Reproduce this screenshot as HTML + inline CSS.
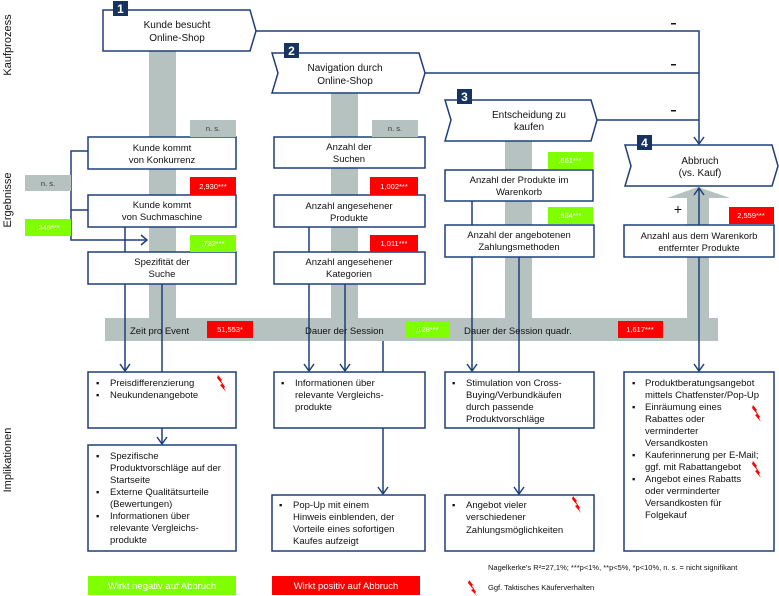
<!DOCTYPE html>
<html><head><meta charset="utf-8"><style>
html,body{margin:0;padding:0;background:#fff;}
svg{display:block;font-family:"Liberation Sans",Arial,sans-serif;}
</style></head><body>
<svg width="779" height="596" viewBox="0 0 779 596" xmlns="http://www.w3.org/2000/svg">
<!-- grey bars -->
<g fill="#b6c2c0">
<rect x="149" y="51" width="27" height="270"/>
<rect x="331" y="93" width="27" height="228"/>
<rect x="505" y="141" width="27" height="180"/>
<rect x="687" y="196" width="22" height="125"/>
<polygon points="667,198 698,187 730,198"/>
<rect x="105" y="318" width="613" height="23"/>
</g>
<!-- connector lines -->
<g stroke="#1f3f7a" stroke-width="1.5" fill="none">
<polyline points="256,31 699,31 699,144"/>
<line x1="425" y1="73" x2="699" y2="73"/>
<line x1="597" y1="120" x2="699" y2="120"/>
<polyline points="88,151 71,151 71,240 147,240"/>
<line x1="71" y1="210" x2="88" y2="210"/>
<line x1="125" y1="227" x2="125" y2="371"/>
<line x1="162" y1="284" x2="162" y2="372"/>
<line x1="162" y1="428" x2="162" y2="444"/>
<line x1="309" y1="227" x2="309" y2="371"/>
<line x1="345" y1="284" x2="345" y2="371"/>
<line x1="383" y1="341" x2="383" y2="494"/>
<line x1="472" y1="201" x2="472" y2="225"/>
<line x1="472" y1="257" x2="472" y2="371"/>
<line x1="519" y1="257" x2="519" y2="494"/>
<line x1="699" y1="257" x2="699" y2="371"/>
<line x1="699" y1="225" x2="699" y2="188"/>
<!-- arrowheads -->
<path d="M694,137 L699,144 L704,137"/>
<path d="M141,235 L147,240 L141,245"/>
<path d="M120,364 L125,371 L130,364"/>
<path d="M157,437 L162,444 L167,437"/>
<path d="M304,364 L309,371 L314,364"/>
<path d="M340,364 L345,371 L350,364"/>
<path d="M378,487 L383,494 L388,487"/>
<path d="M467,364 L472,371 L477,364"/>
<path d="M514,487 L519,494 L524,487"/>
<path d="M694,364 L699,371 L704,364"/>
<path d="M694,195 L699,188 L704,195"/>
</g>
<!-- process shapes -->
<g stroke="#1f3f7a" stroke-width="1.5" fill="#fff">
<polygon points="103,10 250,10 256,31 250,51 103,51"/>
<polygon points="272,53 419,53 425,73 419,93 272,93 278,73"/>
<polygon points="445,100 591,100 597,120 591,141 445,141 451,120"/>
<polygon points="625,145 772,145 778,166 772,186 625,186 631,166"/>
</g>
<g fill="#17335f">
<rect x="113" y="1" width="15" height="15"/>
<rect x="284" y="43" width="15" height="15"/>
<rect x="457" y="89" width="15" height="15"/>
<rect x="637" y="135" width="15" height="15"/>
</g>
<g fill="#fff" font-size="12" font-weight="bold" text-anchor="middle">
<text x="120.5" y="13">1</text><text x="291.5" y="55">2</text><text x="464.5" y="101">3</text><text x="644.5" y="147">4</text>
</g>
<g font-size="10" fill="#111" text-anchor="middle">
<text x="177" y="28">Kunde besucht</text><text x="177" y="41">Online-Shop</text>
<text x="345" y="71">Navigation durch</text><text x="345" y="84">Online-Shop</text>
<text x="529" y="118">Entscheidung zu</text><text x="529" y="130">kaufen</text>
<text x="700" y="164">Abbruch</text><text x="700" y="176">(vs. Kauf)</text>
</g>
<g fill="#111">
<rect x="671" y="23" width="5" height="1.5"/>
<rect x="671" y="64" width="5" height="1.5"/>
<rect x="671" y="110" width="5" height="1.5"/>
</g>
<text x="678" y="214" font-size="14" fill="#111" text-anchor="middle">+</text>
<!-- result boxes -->
<g stroke="#1f3f7a" stroke-width="1.5" fill="#fff">
<rect x="88" y="137" width="148" height="32"/>
<rect x="88" y="195" width="148" height="32"/>
<rect x="88" y="252" width="148" height="32"/>
<rect x="274" y="137" width="151" height="31"/>
<rect x="274" y="195" width="151" height="32"/>
<rect x="274" y="252" width="151" height="32"/>
<rect x="445" y="170" width="148" height="31"/>
<rect x="445" y="225" width="149" height="32"/>
<rect x="624" y="225" width="150" height="32"/>
<rect x="88" y="372" width="148" height="56"/>
<rect x="88" y="445" width="148" height="106"/>
<rect x="274" y="372" width="151" height="56"/>
<rect x="272" y="495" width="153" height="56"/>
<rect x="445" y="372" width="149" height="56"/>
<rect x="445" y="495" width="149" height="56"/>
<rect x="624" y="372" width="150" height="179"/>
</g>
<g font-size="9.5" fill="#111" text-anchor="middle">
<text x="162" y="151">Kunde kommt</text><text x="162" y="163">von Konkurrenz</text>
<text x="162" y="208">Kunde kommt</text><text x="162" y="220">von Suchmaschine</text>
<text x="162" y="265">Spezifität der</text><text x="162" y="277">Suche</text>
<text x="349" y="150">Anzahl der</text><text x="349" y="162">Suchen</text>
<text x="349" y="209">Anzahl angesehener</text><text x="349" y="221">Produkte</text>
<text x="349" y="265">Anzahl angesehener</text><text x="349" y="277">Kategorien</text>
<text x="519" y="183">Anzahl der Produkte im</text><text x="519" y="195">Warenkorb</text>
<text x="519" y="238">Anzahl der angebotenen</text><text x="519" y="250">Zahlungsmethoden</text>
<text x="699" y="239">Anzahl aus dem Warenkorb</text><text x="699" y="251">entfernter Produkte</text>
</g>
<!-- stat labels -->
<g>
<rect x="190" y="120" width="46" height="17" fill="#b6c2c0"/>
<rect x="372" y="120" width="46" height="17" fill="#b6c2c0"/>
<rect x="25" y="175" width="46" height="16" fill="#b6c2c0"/>
<rect x="190" y="177" width="46" height="18" fill="#f00"/>
<rect x="370" y="177" width="48" height="18" fill="#f00"/>
<rect x="370" y="235" width="48" height="17" fill="#f00"/>
<rect x="729" y="207" width="45" height="17" fill="#f00"/>
<rect x="207" y="321" width="46" height="17" fill="#f00"/>
<rect x="618" y="321" width="45" height="17" fill="#f00"/>
<rect x="190" y="235" width="46" height="17" fill="#80ff00"/>
<rect x="25" y="219" width="46" height="17" fill="#80ff00"/>
<rect x="548" y="152" width="45" height="17" fill="#80ff00"/>
<rect x="548" y="207" width="45" height="17" fill="#80ff00"/>
<rect x="405" y="321" width="45" height="17" fill="#80ff00"/>
</g>
<g font-size="7.5" text-anchor="middle">
<text x="213" y="131" fill="#333">n. s.</text><text x="395" y="131" fill="#333">n. s.</text><text x="48" y="186" fill="#333">n. s.</text>
<g fill="#fff">
<text x="213" y="189">2,930***</text><text x="394" y="189">1,002***</text><text x="394" y="246">1,011***</text>
<text x="751" y="218">2,559***</text><text x="230" y="332">51,553*</text><text x="640" y="332">1,617***</text>
<text x="213" y="246">,732***</text><text x="48" y="230">,349***</text><text x="570" y="163">,661***</text>
<text x="570" y="218">,534***</text><text x="427" y="332">,128***</text>
</g>
</g>
<g font-size="9.5" fill="#111">
<text x="130" y="334">Zeit pro Event</text>
<text x="305" y="334">Dauer der Session</text>
<text x="464" y="334">Dauer der Session quadr.</text>
</g>
<!-- implication texts -->
<g font-size="9.5" fill="#111">
<text x="96" y="386">▪</text><text x="110" y="386">Preisdifferenzierung</text>
<text x="96" y="398">▪</text><text x="110" y="398">Neukundenangebote</text>
<text x="96" y="459">▪</text><text x="110" y="459">Spezifische</text>
<text x="110" y="471">Produktvorschläge auf der</text><text x="110" y="483">Startseite</text>
<text x="96" y="495">▪</text><text x="110" y="495">Externe Qualitätsurteile</text>
<text x="110" y="507">(Bewertungen)</text>
<text x="96" y="519">▪</text><text x="110" y="519">Informationen über</text>
<text x="110" y="531">relevante Vergleichs-</text><text x="110" y="543">produkte</text>
<text x="281" y="386">▪</text><text x="295" y="386">Informationen über</text>
<text x="295" y="398">relevante Vergleichs-</text><text x="295" y="410">produkte</text>
<text x="279" y="508">▪</text><text x="293" y="508">Pop-Up mit einem</text>
<text x="293" y="520">Hinweis einblenden, der</text>
<text x="293" y="532">Vorteile eines sofortigen</text><text x="293" y="544">Kaufes aufzeigt</text>
<text x="452" y="386">▪</text><text x="466" y="386">Stimulation von Cross-</text>
<text x="466" y="398">Buying/Verbundkäufen</text><text x="466" y="410">durch passende</text><text x="466" y="422">Produktvorschläge</text>
<text x="452" y="508">▪</text><text x="466" y="508">Angebot vieler</text>
<text x="466" y="520">verschiedener</text><text x="466" y="533">Zahlungsmöglichkeiten</text>
<text x="632" y="386">▪</text><text x="645" y="386">Produktberatungsangebot</text>
<text x="645" y="398">mittels Chatfenster/Pop-Up</text>
<text x="632" y="410">▪</text><text x="645" y="410">Einräumung eines</text>
<text x="645" y="422">Rabattes oder</text><text x="645" y="434">verminderter</text><text x="645" y="446">Versandkosten</text>
<text x="632" y="458">▪</text><text x="645" y="458">Kauferinnerung per E-Mail;</text>
<text x="645" y="470">ggf. mit Rabattangebot</text>
<text x="632" y="482">▪</text><text x="645" y="482">Angebot eines Rabatts</text>
<text x="645" y="494">oder verminderter</text><text x="645" y="506">Versandkosten für</text><text x="645" y="518">Folgekauf</text>
</g>
<!-- lightning -->
<g fill="#f00">
<polygon points="218,375 222,380 221,381 225,387 224,388 226,392 220,385 222,384 217,378"/>
<polygon points="573,496 577,501 576,502 580,508 579,509 581,513 575,506 577,505 572,499"/>
<polygon points="753,405 757,410 756,411 760,417 759,418 761,422 755,415 757,414 752,408"/>
<polygon points="753,461 757,466 756,467 760,473 759,474 761,478 755,471 757,470 752,464"/>
<polygon points="469,580 473,585 472,586 476,592 475,593 477,596 471,590 473,589 468,583"/>
</g>
<!-- footer -->
<text x="488" y="570" font-size="7.5" fill="#111">Nagelkerke's   R²=27,1%; ***p&lt;1%, **p&lt;5%, *p&lt;10%, n. s. = nicht signifikant</text>
<text x="488" y="590" font-size="7.5" fill="#111">Ggf. Taktisches Käuferverhalten</text>
<rect x="88" y="576" width="148" height="19" fill="#80ff00"/>
<rect x="272" y="576" width="148" height="19" fill="#f00"/>
<text x="162" y="589" font-size="9.5" fill="#fff" text-anchor="middle">Wirkt negativ auf Abbruch</text>
<text x="346" y="589" font-size="9.5" fill="#fff" text-anchor="middle">Wirkt positiv auf Abbruch</text>
<!-- vertical labels -->
<g font-size="11" fill="#111" text-anchor="middle">
<text transform="translate(11,45) rotate(-90)">Kaufprozess</text>
<text transform="translate(11,200) rotate(-90)">Ergebnisse</text>
<text transform="translate(11,460) rotate(-90)">Implikationen</text>
</g>
</svg>
</body></html>
